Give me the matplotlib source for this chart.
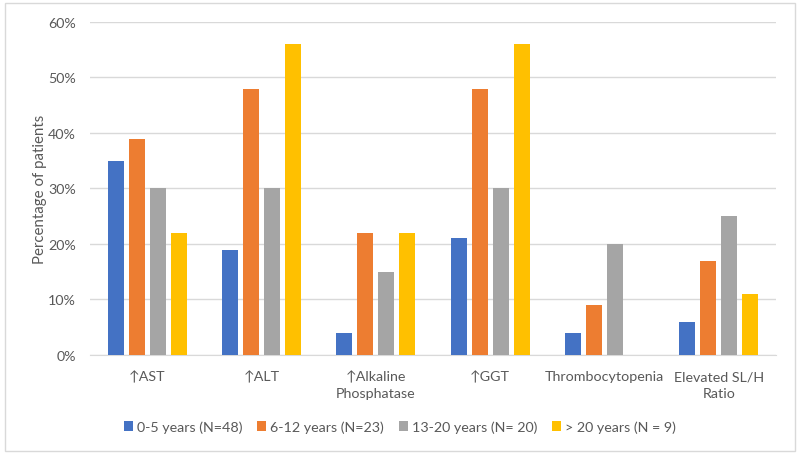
import matplotlib
matplotlib.use("Agg")
import matplotlib.pyplot as plt
import numpy as np
from matplotlib.ticker import PercentFormatter
from matplotlib.patches import Rectangle

plt.rcParams['font.family'] = ['Lato', 'DejaVu Sans']

categories = ["\u2191AST", "\u2191ALT", "\u2191Alkaline\nPhosphatase", "\u2191GGT",
              "Thrombocytopenia", "Elevated SL/H\nRatio"]
series_names = ["0-5 years (N=48)", "6-12 years (N=23)", "13-20 years (N= 20)", "> 20 years (N = 9)"]
v_0_5 = [35, 19, 4, 21, 4, 6]
v_6_12 = [39, 48, 22, 48, 9, 17]
v_13_20 = [30, 30, 15, 30, 20, 25]
v_20p = [22, 56, 22, 56, 0, 11]
colors = ["#4472C4", "#ED7D31", "#A5A5A5", "#FFC000"]

fig = plt.figure(figsize=(8, 4.56), dpi=100)
ax = fig.add_axes([0.1125, 0.2193, 0.8575, 0.7303])

x = np.arange(len(categories))
width = 0.14
pitch = 0.184
all_vals = [v_0_5, v_6_12, v_13_20, v_20p]
for i, (vals, c, name) in enumerate(zip(all_vals, colors, series_names)):
    ax.bar(x + (i - 1.5) * pitch, np.array(vals) / 100, width=width, color=c, label=name, zorder=3)

ax.set_xlim(-0.5, len(categories) - 0.5)
ax.set_ylim(0, 0.6)
ax.set_yticks(np.arange(0, 0.61, 0.1))
ax.yaxis.set_major_formatter(PercentFormatter(1.0, decimals=0))
ax.grid(axis='y', color='#D9D9D9', linewidth=1, zorder=0)
for s in ['top', 'right', 'left']:
    ax.spines[s].set_visible(False)
ax.spines['bottom'].set_color('#D9D9D9')
ax.tick_params(axis='both', length=0, colors='#595959', labelsize=10.3)
ax.tick_params(axis='x', pad=11)
ax.tick_params(axis='y', pad=10)
ax.set_xticks(x)
ax.set_xticklabels(categories, linespacing=1.45)
ax.set_ylabel("Percentage of patients", color='#595959', fontsize=10.8, labelpad=1)

fig.legend(loc='center', bbox_to_anchor=(0.5, 0.062), ncol=4, frameon=False,
           fontsize=10.3, labelcolor='#595959', handlelength=0.6, handleheight=0.6,
           handletextpad=0.3, columnspacing=1.05)

fig.patches.append(Rectangle((0.006, 0.008), 0.988, 0.984, transform=fig.transFigure,
                             fill=False, edgecolor='#D9D9D9', linewidth=1))

fig.savefig("out.png", dpi=100, facecolor='white')
